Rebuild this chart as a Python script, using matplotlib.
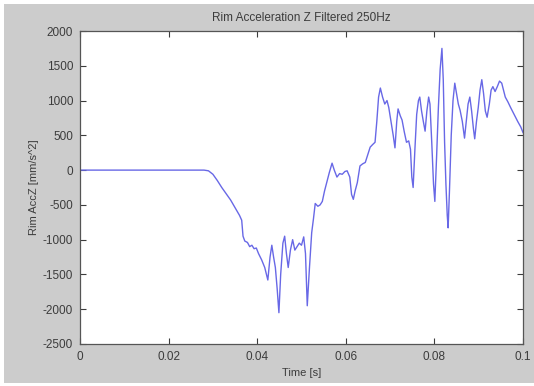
import matplotlib
matplotlib.use("Agg")
import matplotlib.pyplot as plt
import matplotlib.patches as mpatches

# time [s] and filtered rim acceleration [mm/s^2]
t = [0.0, 0.028, 0.029, 0.030, 0.031, 0.032, 0.033, 0.034, 0.035, 0.036, 0.0365,
     0.0368, 0.0372, 0.0378, 0.0383, 0.0388, 0.0393, 0.0398, 0.0403, 0.0410, 0.0417,
     0.0424, 0.0429, 0.0433, 0.0437, 0.0441, 0.0445, 0.0449, 0.0453, 0.0458, 0.0462,
     0.0466, 0.0470, 0.0475, 0.0480, 0.0485, 0.0490, 0.0495, 0.0500, 0.0505, 0.0509,
     0.0513, 0.0518, 0.0523, 0.0527, 0.0531, 0.0537, 0.0542, 0.0547, 0.0552, 0.0558,
     0.0563, 0.0569, 0.0574, 0.0580, 0.0586, 0.0592, 0.0598, 0.0603, 0.0609, 0.0613,
     0.0617, 0.0621, 0.0626, 0.0632, 0.0638, 0.0644, 0.0650, 0.0655, 0.0661, 0.0666,
     0.0670, 0.0674, 0.0678, 0.0683, 0.0688, 0.0693, 0.0697, 0.0702, 0.0707, 0.0711,
     0.0715, 0.0718, 0.0723, 0.0727, 0.0732, 0.0737, 0.0742, 0.0746, 0.0749, 0.0752,
     0.0756, 0.0760, 0.0764, 0.0767, 0.0771, 0.0775, 0.0779, 0.0783, 0.0787, 0.0790,
     0.0794, 0.0798, 0.0801, 0.0805, 0.0809, 0.0813, 0.0817, 0.0820, 0.0823, 0.0826,
     0.0829, 0.0831, 0.0834, 0.0838, 0.0842, 0.0846, 0.0850, 0.0854, 0.0858, 0.0863,
     0.0868, 0.0872, 0.0876, 0.0880, 0.0884, 0.0888, 0.0891, 0.0895, 0.0899, 0.0903,
     0.0907, 0.0911, 0.0915, 0.0919, 0.0924, 0.0928, 0.0932, 0.0937, 0.0942, 0.0947,
     0.0952, 0.0956, 0.0960, 0.0966, 0.0972, 0.0980, 0.0988, 0.0995, 0.1000]
acc = [0, 0, -10, -60, -150, -250, -340, -430, -540, -650, -720,
       -950, -1020, -1040, -1100, -1080, -1130, -1120, -1200, -1290, -1400,
       -1580, -1250, -1080, -1250, -1400, -1700, -2050, -1500, -1050, -950,
       -1200, -1400, -1150, -1000, -1150, -1100, -1050, -1080, -960, -1200,
       -1950, -1400, -900, -700, -480, -520, -500, -450, -300, -150,
       -30, 100, 0, -100, -50, -60, -20, -10, -100, -350,
       -420, -300, -180, 60, 90, 110, 230, 330, 370, 400,
       700, 1050, 1180, 1050, 950, 1000, 900, 700, 500, 320,
       700, 880, 780, 720, 550, 400, 420, 300, -100, -250,
       300, 800, 1000, 1050, 850, 700, 560, 850, 1050, 950,
       400, -200, -450, 200, 900, 1450, 1750, 1300, 400, -200,
       -650, -830, -300, 500, 1000, 1250, 1100, 950, 860, 700,
       460, 700, 950, 1050, 850, 600, 450, 700, 900, 1150,
       1300, 1100, 850, 760, 950, 1150, 1200, 1130, 1200, 1280,
       1250, 1150, 1050, 980, 900, 800, 700, 620, 540]

x_ticks = [0, 0.02, 0.04, 0.06, 0.08, 0.1]
x_tick_labels = ['0', '0.02', '0.04', '0.06', '0.08', '0.1']
y_ticks = [-2500, -2000, -1500, -1000, -500, 0, 500, 1000, 1500, 2000]

plt.rcParams['font.family'] = ['Liberation Sans', 'DejaVu Sans']
plt.rcParams['axes.unicode_minus'] = False  # plain hyphen minus like MATLAB

fig = plt.figure(figsize=(5.34, 3.86), dpi=100, facecolor='white')
# grey MATLAB-style figure panel with a thin white margin (drawn behind the axes)
fig.patches.append(mpatches.Rectangle((4 / 534, 3 / 386), 530 / 534, 379 / 386,
                                      transform=fig.transFigure, facecolor='#cccccc',
                                      edgecolor='none', zorder=-10))

ax = fig.add_axes([80 / 534, 42 / 386, 443 / 534, 313 / 386])
ax.set_facecolor('white')
ax.plot(t, acc, color='#6868e6', linewidth=1.0)

ax.set_xlim(0, 0.1)
ax.set_ylim(-2500, 2000)
ax.set_xticks(x_ticks)
ax.set_xticklabels(x_tick_labels)
ax.set_yticks(y_ticks)
ax.tick_params(direction='in', top=True, right=True, length=4, width=0.8,
               labelsize=8.5, colors='#3c3c3c', pad=5)
for s in ax.spines.values():
    s.set_color('#555555')
    s.set_linewidth(0.9)

ax.set_title('Rim Acceleration Z Filtered 250Hz', fontsize=8.5, color='#3c3c3c', pad=7)
ax.set_xlabel('Time [s]', fontsize=8, color='#3c3c3c', labelpad=4)
ax.set_ylabel('Rim AccZ [mm/s^2]', fontsize=8, color='#3c3c3c', labelpad=3)

fig.savefig('out.png', dpi=100, facecolor=fig.get_facecolor())
